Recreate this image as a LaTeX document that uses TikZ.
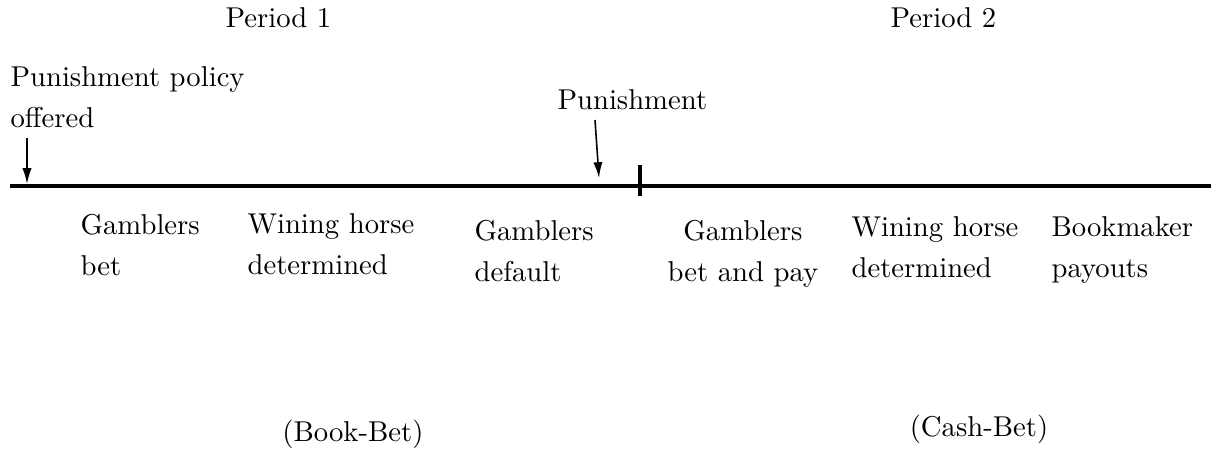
\documentclass[tikz,border=0pt]{standalone}
\usepackage{amsmath, amssymb}
\usepackage{tikz}
\usetikzlibrary{arrows.meta}

\begin{document}
\begin{tikzpicture}[%
            x=0.01225cm, y=-0.01225cm,
            event/.style={align=left, anchor=base west, inner sep=0pt},
            timeline/.style={line width=1.1pt},
            marker/.style={-{Latex[length=5.5pt,width=3.2pt]}, line width=0.55pt},
        ]
        \useasboundingbox (0,0) rectangle (1211,449);
        % periods
        \node[event] (period1) at (225,28) {Period 1};
        \node[event] (period2) at (890,28) {Period 2};
        % the time line
        \coordinate (start) at (10,186);
        \coordinate (stop) at (1211,186);
        \coordinate (splittop) at (640,165);
        \coordinate (splitbot) at (640,196);
        \draw[timeline] (start) -- (stop);
        \draw[timeline] (splittop) -- (splitbot);
        % announcements above the line
        \node[event] (policy) at (10,128) {Punishment policy\\[2.3pt]offered};
        \node[event] (punish) at (557,110) {Punishment};
        \coordinate (policytip) at (27,184);
        \coordinate (policytail) at (27,138);
        \coordinate (punishtail) at (595,120);
        \coordinate (punishtip) at (599,178);
        \draw[marker] (policytail) -- (policytip);
        \draw[marker] (punishtail) -- (punishtip);
        % events of period 1
        \node[event] (bet1) at (80,276) {Gamblers\\[2.3pt]bet};
        \node[event] (win1) at (247,275) {Wining horse\\[2.3pt]determined};
        \node[event] (default) at (474,282) {Gamblers\\[2.3pt]default};
        % events of period 2
        \node[event, align=center] (bet2) at (667,282) {Gamblers\\[2.3pt]bet and pay};
        \node[event] (win2) at (851,278) {Wining horse\\[2.3pt]determined};
        \node[event] (payout) at (1051,278) {Bookmaker\\[2.3pt]payouts};
        % kinds of bet
        \node[anchor=base, inner sep=0pt] (bookbet) at (353,442) {(Book-Bet)};
        \node[anchor=base, inner sep=0pt] (cashbet) at (979,437) {(Cash-Bet)};
    \end{tikzpicture}
\end{document}
